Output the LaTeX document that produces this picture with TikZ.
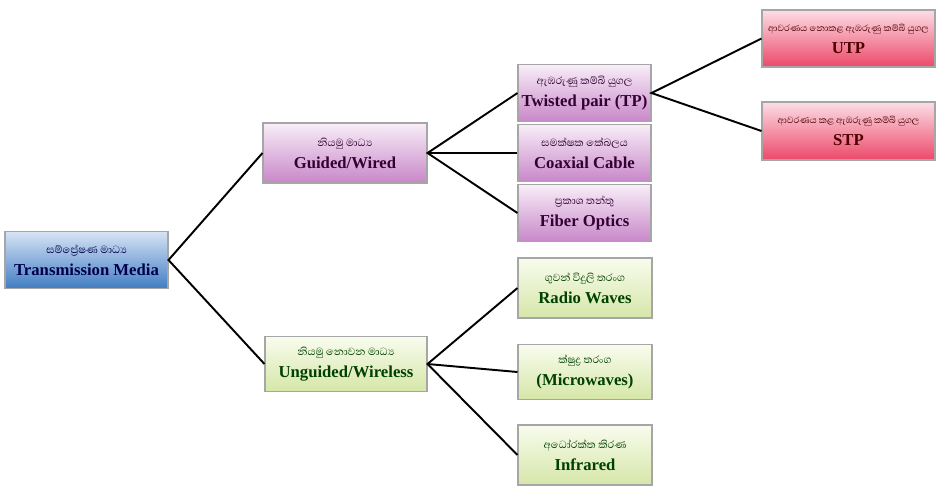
\documentclass[tikz,border=0pt]{standalone}
\usepackage{fontspec}
\setmainfont{Liberation Serif}
\newfontfamily\sinhala[Script=Sinhala]{Abhaya Libre}
\definecolor{bluetop}{RGB}{215,228,245}
\definecolor{bluebot}{RGB}{65,125,195}
\definecolor{purpletop}{RGB}{248,238,248}
\definecolor{purplebot}{RGB}{200,135,200}
\definecolor{greentop}{RGB}{248,252,238}
\definecolor{greenbot}{RGB}{214,230,168}
\definecolor{redtop}{RGB}{252,222,230}
\definecolor{redbot}{RGB}{236,72,106}
\begin{document}
\begin{tikzpicture}[
    x=0.02cm, y=-0.02cm,
    % Define styles
    mediabox/.style={
        rectangle,
        draw=gray!70,
        line width=0.6pt,
        align=center,
        inner sep=1pt,
        font=\fontsize{9.5}{12.5}\selectfont\bfseries
    },
    bluebox/.style={mediabox, top color=bluetop, bottom color=bluebot, text=blue!30!black},
    purplebox/.style={mediabox, top color=purpletop, bottom color=purplebot, text=violet!40!black},
    greenbox/.style={mediabox, top color=greentop, bottom color=greenbot, text=green!25!black},
    redbox/.style={mediabox, top color=redtop, bottom color=redbot, text=red!30!black},
    link/.style={
        line width=1.1pt,
        black
    }
]

% Page frame
\useasboundingbox (0,0) rectangle (941,491);

% Root
\node[bluebox, minimum width=3.26cm, minimum height=1.14cm] (media) at (86.5,260)
    {{\sinhala\mdseries\fontsize{7.5}{9}\selectfont සම්ප්‍රේෂණ මාධ්‍ය}\\Transmission Media};

% Guided and unguided
\node[purplebox, minimum width=3.28cm, minimum height=1.2cm] (guided) at (345,153)
    {{\sinhala\mdseries\fontsize{7.5}{9}\selectfont නියමු මාධ්‍ය}\\Guided/Wired};
\node[greenbox, minimum width=3.24cm, minimum height=1.1cm] (unguided) at (346,364)
    {{\sinhala\mdseries\fontsize{7.5}{9}\selectfont නියමු නොවන මාධ්‍ය}\\Unguided/Wireless};

% Guided media
\node[purplebox, minimum width=2.66cm, minimum height=1.14cm] (tp) at (584.5,93)
    {{\sinhala\mdseries\fontsize{7.5}{9}\selectfont ඇඹරුණු කම්බි යුගල}\\Twisted pair (TP)};
\node[purplebox, minimum width=2.66cm, minimum height=1.14cm] (coax) at (584.5,153)
    {{\sinhala\mdseries\fontsize{7.5}{9}\selectfont සමක්ෂක කේබලය}\\Coaxial Cable};
\node[purplebox, minimum width=2.66cm, minimum height=1.14cm] (fiber) at (584.5,213)
    {{\sinhala\mdseries\fontsize{7.5}{9}\selectfont ප්‍රකාශ තන්තු}\\Fiber Optics};

% Twisted pair kinds
\node[redbox, minimum width=3.46cm, minimum height=1.14cm] (utp) at (848.5,38.5)
    {{\sinhala\mdseries\fontsize{6.5}{9}\selectfont ආවරණය නොකළ ඇඹරුණු කම්බි යුගල}\\UTP};
\node[redbox, minimum width=3.46cm, minimum height=1.16cm] (stp) at (848.5,131)
    {{\sinhala\mdseries\fontsize{6.5}{9}\selectfont ආවරණය කළ ඇඹරුණු කම්බි යුගල}\\STP};

% Unguided media
\node[greenbox, minimum width=2.68cm, minimum height=1.2cm] (radio) at (585,288)
    {{\sinhala\mdseries\fontsize{7.5}{9}\selectfont ගුවන් විදුලි තරංග}\\Radio Waves};
\node[greenbox, minimum width=2.68cm, minimum height=1.1cm] (micro) at (585,372)
    {{\sinhala\mdseries\fontsize{7.5}{9}\selectfont ක්ෂුද්‍ර තරංග}\\(Microwaves)};
\node[greenbox, minimum width=2.68cm, minimum height=1.2cm] (infra) at (585,455)
    {{\sinhala\mdseries\fontsize{7.5}{9}\selectfont අධෝරක්ත කිරණ}\\Infrared};

% Connectors
\draw[link] (guided.west) -- (media.east) -- (unguided.west);
\draw[link] (tp.west) -- (guided.east) -- (fiber.west);
\draw[link] (guided.east) -- (coax.west);
\draw[link] (radio.west) -- (unguided.east) -- (infra.west);
\draw[link] (unguided.east) -- (micro.west);
\draw[link] (utp.west) -- (tp.east) -- (stp.west);
\end{tikzpicture}
\end{document}
